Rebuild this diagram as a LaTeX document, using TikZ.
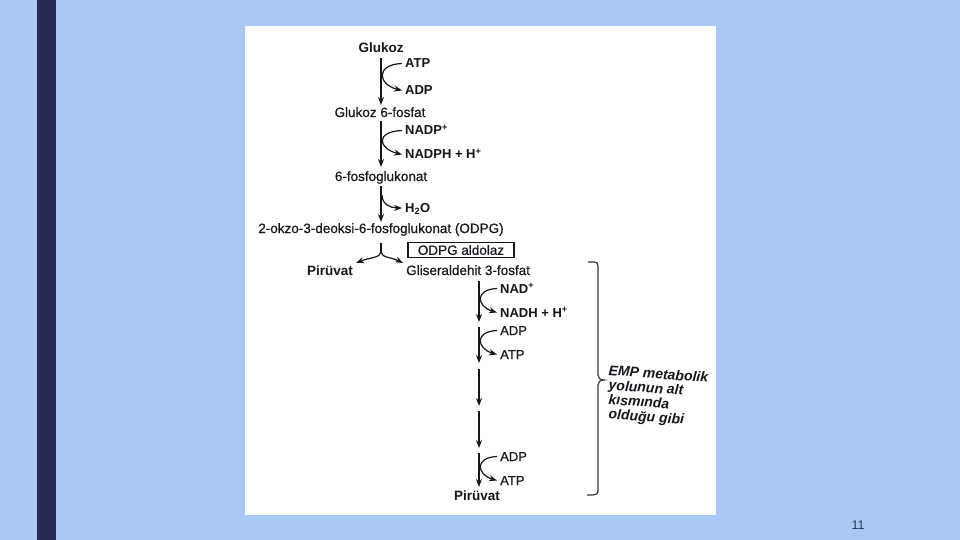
\documentclass[tikz,border=0pt]{standalone}
\usepackage{fontspec}
\setmainfont{Liberation Sans}
\newfontfamily\medfont[FakeBold=0.5]{Liberation Sans}
\usetikzlibrary{arrows.meta,calc}
\definecolor{bg}{RGB}{170,200,245}
\definecolor{bar}{RGB}{38,42,84}
\definecolor{ink}{RGB}{22,22,28}
\definecolor{pgnum}{RGB}{45,52,80}
\begin{document}
\begin{tikzpicture}[x=1pt,y=-1pt,
  main/.style={inner sep=0pt,text=ink,font=\fontsize{13.5}{16}\selectfont\medfont},
  mainb/.style={main,font=\fontsize{13.5}{16}\selectfont\bfseries},
  cof/.style={inner sep=0pt,text=ink,anchor=base west,font=\fontsize{13}{15}\selectfont\bfseries},
  cofr/.style={cof,font=\fontsize{13}{15}\selectfont\medfont},
  emp/.style={inner sep=0pt,text=ink,anchor=north west,rotate=-4,align=left,font=\fontsize{14}{14.5}\selectfont\bfseries\itshape},
  arr/.style={draw=ink,line width=1.2pt,-{Stealth[length=8pt,width=6pt]}},
  ln/.style={draw=ink,line width=1.2pt}]
\useasboundingbox (0,0) rectangle (960,540);
\fill[bg] (0,0) rectangle (960,540);
\fill[bar] (37,0) rectangle (56,540);
\fill[white] (245,26) rectangle (716,515);

% upper pathway
\node[mainb,anchor=base] (glu) at (381,53) {Glukoz};
\node[cof] (atp1) at (405,68) {ATP};
\node[cof] (adp1) at (405,95) {ADP};
\node[main,anchor=base] (g6p) at (380,117) {Glukoz 6-fosfat};
\node[cof] (nadp) at (405,135) {NADP\textsuperscript{+}};
\node[cof] (nadph) at (405,159) {NADPH + H\textsuperscript{+}};
\node[main,anchor=base] (pg) at (381,181) {6-fosfoglukonat};
\node[cof] (h2o) at (405,212) {H\textsubscript{2}O};
\node[main,anchor=base] (odpg) at (381,233) {2-okzo-3-deoksi-6-fosfoglukonat (ODPG)};
\node[main,draw=ink,line width=1.1pt,minimum width=106pt,minimum height=15pt] (ald) at (461,250) {ODPG aldolaz};
\node[mainb,anchor=base] (pir1) at (330,275) {Pirüvat};
\node[main,anchor=base west] (gap) at (406,275) {Gliseraldehit 3-fosfat};

\coordinate (u1a) at (381,58);  \coordinate (u1b) at (381,105);
\coordinate (u2a) at (381,121); \coordinate (u2b) at (381,167);
\coordinate (u3a) at (381,186); \coordinate (u3b) at (381,222);
\draw[arr] (u1a) -- (u1b);
\draw[arr] (u2a) -- (u2b);
\draw[arr] (u3a) -- (u3b);
\draw[arr] ($(atp1.base west)+(-3,-4.5)$) .. controls +(-27,1) and +(-24,-6) .. ($(adp1.base west)+(-3,-4.5)$);
\draw[arr] ($(nadp.base west)+(-3,-4.5)$) .. controls +(-27,1) and +(-24,-6) .. ($(nadph.base west)+(-3,-4.5)$);
\coordinate (hs) at (382,195);
\draw[arr] (hs) .. controls (382,204) and (390,208) .. ($(h2o.base west)+(-3,-4)$);

% fork
\coordinate (f0) at (381,243); \coordinate (f1) at (381,252);
\coordinate (fl) at (356,263);  \coordinate (fr) at (403,263);
\draw[ln] (f0) -- (f1);
\draw[arr] (f1) .. controls (380,258) and (371,257) .. (fl);
\draw[arr] (f1) .. controls (382,258) and (391,257) .. (fr);

% lower pathway
\node[cof] (nad) at (500,293) {NAD\textsuperscript{+}};
\node[cof] (nadh) at (500,317) {NADH + H\textsuperscript{+}};
\node[cofr] (adp2) at (500,335) {ADP};
\node[cofr] (atp2) at (500,359) {ATP};
\node[cofr] (adp3) at (500,461) {ADP};
\node[cofr] (atp3) at (500,485) {ATP};
\node[mainb,anchor=base] (pir2) at (477,500) {Pirüvat};

\coordinate (l1a) at (479,281); \coordinate (l1b) at (479,322);
\coordinate (l2a) at (479,327); \coordinate (l2b) at (479,363);
\coordinate (l3a) at (479,369); \coordinate (l3b) at (479,406);
\coordinate (l4a) at (479,411); \coordinate (l4b) at (479,448);
\coordinate (l5a) at (479,453); \coordinate (l5b) at (479,487);
\draw[arr] (l1a) -- (l1b);
\draw[arr] (l2a) -- (l2b);
\draw[arr] (l3a) -- (l3b);
\draw[arr] (l4a) -- (l4b);
\draw[arr] (l5a) -- (l5b);
\draw[arr] ($(nad.base west)+(-3,-4.5)$) .. controls +(-23,1) and +(-20,-6) .. ($(nadh.base west)+(-3,-4.5)$);
\draw[arr] ($(adp2.base west)+(-3,-4.5)$) .. controls +(-23,1) and +(-20,-6) .. ($(atp2.base west)+(-3,-4.5)$);
\draw[arr] ($(adp3.base west)+(-3,-4.5)$) .. controls +(-23,1) and +(-20,-6) .. ($(atp3.base west)+(-3,-4.5)$);

% brace
\coordinate (bt) at (588,262); \coordinate (bb) at (587,495); \coordinate (btip) at (604,380);
\draw[draw=ink!85,line width=1.2pt] (bt) -- (594,262) .. controls (597,262) and (598,263) .. (598,266)
  -- (598,375) .. controls (598,378) and (600,380) .. (btip)
  .. controls (600,380) and (598,382) .. (598,385)
  -- (598,490) .. controls (598,494) and (596,495) .. (593,495) -- (bb);

\node[emp] (emptext) at (609,365) {EMP metabolik\\\hspace*{1pt}yolunun alt\\\hspace*{2pt}kısmında\\\hspace*{3pt}olduğu gibi};

\node[inner sep=0pt,text=pgnum,font=\fontsize{12.5}{14}\selectfont] (pn) at (858,525) {11};
\end{tikzpicture}
\end{document}
